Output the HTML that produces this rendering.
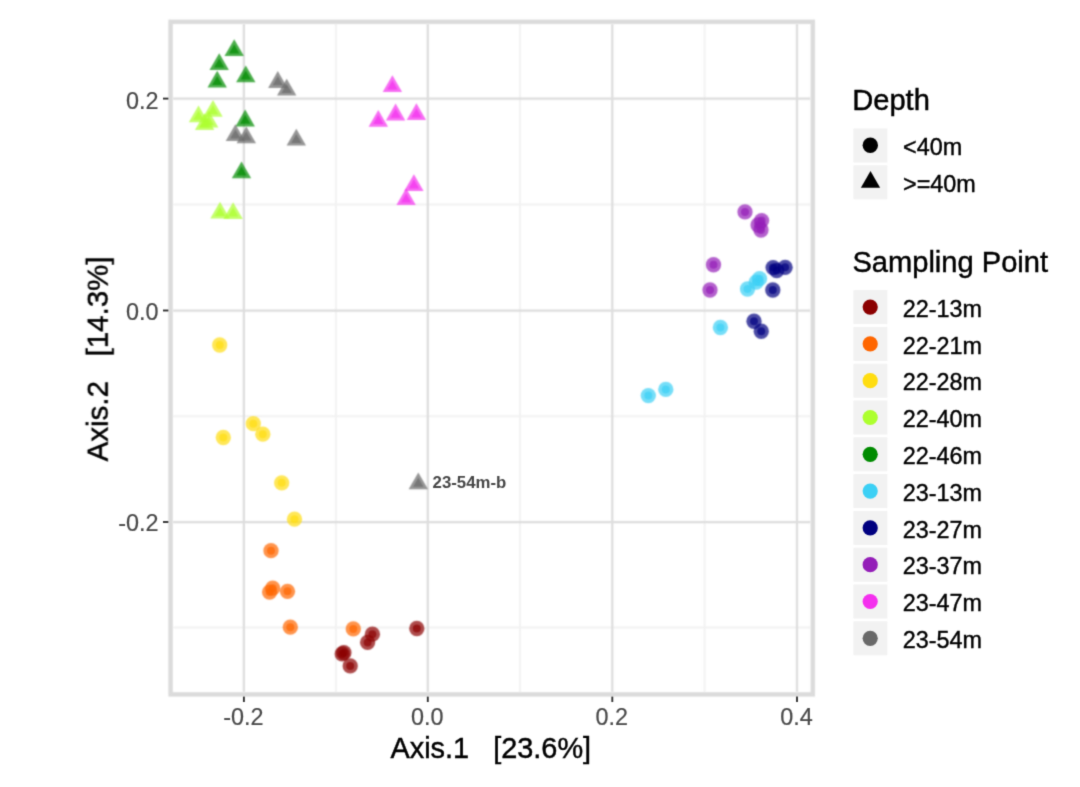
<!DOCTYPE html>
<html><head><meta charset="utf-8"><title>PCoA ordination</title>
<style>
html,body{margin:0;padding:0;background:#fff;}
body{width:1080px;height:787px;overflow:hidden;font-family:"Liberation Sans",Arial,sans-serif;}
svg{display:block;}
.s{stroke:#000;stroke-width:0.4px;}
</style></head><body>
<svg width="1080" height="787" viewBox="0 0 1080 787" font-family="'Liberation Sans', Arial, sans-serif">
<defs><filter id="fa" x="0" y="0" width="1080" height="787" filterUnits="userSpaceOnUse" color-interpolation-filters="sRGB"><feConvolveMatrix order="5" kernelMatrix="0.0002 0.0033 0.0081 0.0033 0.0002 0.0033 0.0479 0.1164 0.0479 0.0033 0.0081 0.1164 0.2831 0.1164 0.0081 0.0033 0.0479 0.1164 0.0479 0.0033 0.0002 0.0033 0.0081 0.0033 0.0002"/></filter><filter id="fb" x="0" y="0" width="1080" height="787" filterUnits="userSpaceOnUse" color-interpolation-filters="sRGB"><feConvolveMatrix order="3" kernelMatrix="0.0192 0.1001 0.0192 0.1001 0.5228 0.1001 0.0192 0.1001 0.0192"/></filter></defs>
<rect width="1080" height="787" fill="#fff"/>
<g filter="url(#fa)">
<g stroke="#f2f2f2" stroke-width="2.0">
<line x1="335.9" x2="335.9" y1="24.0" y2="692.2"/>
<line x1="520.0" x2="520.0" y1="24.0" y2="692.2"/>
<line x1="704.6" x2="704.6" y1="24.0" y2="692.2"/>
<line y1="204.6" y2="204.6" x1="172.8" x2="810.6"/>
<line y1="416.3" y2="416.3" x1="172.8" x2="810.6"/>
<line y1="627.6" y2="627.6" x1="172.8" x2="810.6"/>
</g>
<g stroke="#dddddd" stroke-width="2.25">
<line x1="243.9" x2="243.9" y1="24.0" y2="692.2"/>
<line x1="427.8" x2="427.8" y1="24.0" y2="692.2"/>
<line x1="612.3" x2="612.3" y1="24.0" y2="692.2"/>
<line x1="797.0" x2="797.0" y1="24.0" y2="692.2"/>
<line y1="98.6" y2="98.6" x1="172.8" x2="810.6"/>
<line y1="310.5" y2="310.5" x1="172.8" x2="810.6"/>
<line y1="522.0" y2="522.0" x1="172.8" x2="810.6"/>
</g>
<g fill-opacity="0.7">
<circle cx="372.4" cy="634.2" r="7.65" fill="#8B0000"/>
<circle cx="367.6" cy="642.4" r="7.65" fill="#8B0000"/>
<circle cx="343.9" cy="652.7" r="7.65" fill="#8B0000"/>
<circle cx="342.2" cy="653.9" r="7.65" fill="#8B0000"/>
<circle cx="350.2" cy="665.9" r="7.65" fill="#8B0000"/>
<circle cx="416.8" cy="628.5" r="7.65" fill="#8B0000"/>
<circle cx="271" cy="550.7" r="7.65" fill="#FF6600"/>
<circle cx="272.7" cy="588.2" r="7.65" fill="#FF6600"/>
<circle cx="269.6" cy="592.1" r="7.65" fill="#FF6600"/>
<circle cx="287.5" cy="591.3" r="7.65" fill="#FF6600"/>
<circle cx="290.3" cy="627.2" r="7.65" fill="#FF6600"/>
<circle cx="353.3" cy="628.9" r="7.65" fill="#FF6600"/>
<circle cx="219.7" cy="345" r="7.65" fill="#FFDD11"/>
<circle cx="253.3" cy="423.7" r="7.65" fill="#FFDD11"/>
<circle cx="262.8" cy="434.2" r="7.65" fill="#FFDD11"/>
<circle cx="223.3" cy="437.5" r="7.65" fill="#FFDD11"/>
<circle cx="281.7" cy="482.8" r="7.65" fill="#FFDD11"/>
<circle cx="294.5" cy="519.2" r="7.65" fill="#FFDD11"/>
<polygon points="198.50,105.50 208.20,122.30 188.80,122.30" fill="#ADFF2F"/>
<polygon points="213.00,100.00 222.70,116.80 203.30,116.80" fill="#ADFF2F"/>
<polygon points="204.60,113.30 214.30,130.10 194.90,130.10" fill="#ADFF2F"/>
<polygon points="208.70,110.70 218.40,127.50 199.00,127.50" fill="#ADFF2F"/>
<polygon points="220.00,201.80 229.70,218.60 210.30,218.60" fill="#ADFF2F"/>
<polygon points="233.10,202.30 242.80,219.10 223.40,219.10" fill="#ADFF2F"/>
<polygon points="234.20,39.20 243.90,56.00 224.50,56.00" fill="#008B00"/>
<polygon points="219.20,53.20 228.90,70.00 209.50,70.00" fill="#008B00"/>
<polygon points="245.80,65.40 255.50,82.20 236.10,82.20" fill="#008B00"/>
<polygon points="217.20,70.80 226.90,87.60 207.50,87.60" fill="#008B00"/>
<polygon points="245.20,109.60 254.90,126.40 235.50,126.40" fill="#008B00"/>
<polygon points="241.50,161.40 251.20,178.20 231.80,178.20" fill="#008B00"/>
<circle cx="759.5" cy="278.7" r="7.65" fill="#3CD0F5"/>
<circle cx="756.2" cy="282.2" r="7.65" fill="#3CD0F5"/>
<circle cx="747.5" cy="289" r="7.65" fill="#3CD0F5"/>
<circle cx="720.4" cy="327.5" r="7.65" fill="#3CD0F5"/>
<circle cx="648.3" cy="395.6" r="7.65" fill="#3CD0F5"/>
<circle cx="665.8" cy="389.4" r="7.65" fill="#3CD0F5"/>
<circle cx="785.1" cy="267.3" r="7.65" fill="#000080"/>
<circle cx="773.1" cy="267.6" r="7.65" fill="#000080"/>
<circle cx="776.7" cy="270.6" r="7.65" fill="#000080"/>
<circle cx="772.8" cy="290" r="7.65" fill="#000080"/>
<circle cx="754" cy="321.25" r="7.65" fill="#000080"/>
<circle cx="761.25" cy="331.25" r="7.65" fill="#000080"/>
<circle cx="745" cy="211.9" r="7.65" fill="#941EB8"/>
<circle cx="761.6" cy="220.6" r="7.65" fill="#941EB8"/>
<circle cx="758.1" cy="225" r="7.65" fill="#941EB8"/>
<circle cx="761" cy="230" r="7.65" fill="#941EB8"/>
<circle cx="713.5" cy="264.75" r="7.65" fill="#941EB8"/>
<circle cx="710" cy="290" r="7.65" fill="#941EB8"/>
<polygon points="392.40,75.30 402.10,92.10 382.70,92.10" fill="#F430EE"/>
<polygon points="378.30,109.90 388.00,126.70 368.60,126.70" fill="#F430EE"/>
<polygon points="395.60,103.60 405.30,120.40 385.90,120.40" fill="#F430EE"/>
<polygon points="416.40,103.20 426.10,120.00 406.70,120.00" fill="#F430EE"/>
<polygon points="413.90,174.30 423.60,191.10 404.20,191.10" fill="#F430EE"/>
<polygon points="406.10,188.20 415.80,205.00 396.40,205.00" fill="#F430EE"/>
<polygon points="277.80,71.10 287.50,87.90 268.10,87.90" fill="#696969"/>
<polygon points="286.70,78.80 296.40,95.60 277.00,95.60" fill="#696969"/>
<polygon points="235.40,124.30 245.10,141.10 225.70,141.10" fill="#696969"/>
<polygon points="246.30,126.40 256.00,143.20 236.60,143.20" fill="#696969"/>
<polygon points="296.30,128.70 306.00,145.50 286.60,145.50" fill="#696969"/>
<polygon points="418.30,472.50 428.00,489.30 408.60,489.30" fill="#696969"/>
</g>
<g fill-opacity="0.7">
<circle cx="372.4" cy="634.2" r="4.0" fill="#8B0000"/>
<circle cx="367.6" cy="642.4" r="4.0" fill="#8B0000"/>
<circle cx="343.9" cy="652.7" r="4.0" fill="#8B0000"/>
<circle cx="342.2" cy="653.9" r="4.0" fill="#8B0000"/>
<circle cx="350.2" cy="665.9" r="4.0" fill="#8B0000"/>
<circle cx="416.8" cy="628.5" r="4.0" fill="#8B0000"/>
<circle cx="271" cy="550.7" r="4.0" fill="#FF6600"/>
<circle cx="272.7" cy="588.2" r="4.0" fill="#FF6600"/>
<circle cx="269.6" cy="592.1" r="4.0" fill="#FF6600"/>
<circle cx="287.5" cy="591.3" r="4.0" fill="#FF6600"/>
<circle cx="290.3" cy="627.2" r="4.0" fill="#FF6600"/>
<circle cx="353.3" cy="628.9" r="4.0" fill="#FF6600"/>
<circle cx="219.7" cy="345" r="4.0" fill="#FFDD11"/>
<circle cx="253.3" cy="423.7" r="4.0" fill="#FFDD11"/>
<circle cx="262.8" cy="434.2" r="4.0" fill="#FFDD11"/>
<circle cx="223.3" cy="437.5" r="4.0" fill="#FFDD11"/>
<circle cx="281.7" cy="482.8" r="4.0" fill="#FFDD11"/>
<circle cx="294.5" cy="519.2" r="4.0" fill="#FFDD11"/>
<polygon points="198.50,110.70 203.70,119.70 193.30,119.70" fill="#ADFF2F"/>
<polygon points="213.00,105.20 218.20,114.20 207.80,114.20" fill="#ADFF2F"/>
<polygon points="204.60,118.50 209.80,127.50 199.40,127.50" fill="#ADFF2F"/>
<polygon points="208.70,115.90 213.90,124.90 203.50,124.90" fill="#ADFF2F"/>
<polygon points="220.00,207.00 225.20,216.00 214.80,216.00" fill="#ADFF2F"/>
<polygon points="233.10,207.50 238.30,216.50 227.90,216.50" fill="#ADFF2F"/>
<polygon points="234.20,44.40 239.40,53.40 229.00,53.40" fill="#008B00"/>
<polygon points="219.20,58.40 224.40,67.40 214.00,67.40" fill="#008B00"/>
<polygon points="245.80,70.60 251.00,79.60 240.60,79.60" fill="#008B00"/>
<polygon points="217.20,76.00 222.40,85.00 212.00,85.00" fill="#008B00"/>
<polygon points="245.20,114.80 250.40,123.80 240.00,123.80" fill="#008B00"/>
<polygon points="241.50,166.60 246.70,175.60 236.30,175.60" fill="#008B00"/>
<circle cx="759.5" cy="278.7" r="4.0" fill="#3CD0F5"/>
<circle cx="756.2" cy="282.2" r="4.0" fill="#3CD0F5"/>
<circle cx="747.5" cy="289" r="4.0" fill="#3CD0F5"/>
<circle cx="720.4" cy="327.5" r="4.0" fill="#3CD0F5"/>
<circle cx="648.3" cy="395.6" r="4.0" fill="#3CD0F5"/>
<circle cx="665.8" cy="389.4" r="4.0" fill="#3CD0F5"/>
<circle cx="785.1" cy="267.3" r="4.0" fill="#000080"/>
<circle cx="773.1" cy="267.6" r="4.0" fill="#000080"/>
<circle cx="776.7" cy="270.6" r="4.0" fill="#000080"/>
<circle cx="772.8" cy="290" r="4.0" fill="#000080"/>
<circle cx="754" cy="321.25" r="4.0" fill="#000080"/>
<circle cx="761.25" cy="331.25" r="4.0" fill="#000080"/>
<circle cx="745" cy="211.9" r="4.0" fill="#941EB8"/>
<circle cx="761.6" cy="220.6" r="4.0" fill="#941EB8"/>
<circle cx="758.1" cy="225" r="4.0" fill="#941EB8"/>
<circle cx="761" cy="230" r="4.0" fill="#941EB8"/>
<circle cx="713.5" cy="264.75" r="4.0" fill="#941EB8"/>
<circle cx="710" cy="290" r="4.0" fill="#941EB8"/>
<polygon points="392.40,80.50 397.60,89.50 387.20,89.50" fill="#F430EE"/>
<polygon points="378.30,115.10 383.50,124.10 373.10,124.10" fill="#F430EE"/>
<polygon points="395.60,108.80 400.80,117.80 390.40,117.80" fill="#F430EE"/>
<polygon points="416.40,108.40 421.60,117.40 411.20,117.40" fill="#F430EE"/>
<polygon points="413.90,179.50 419.10,188.50 408.70,188.50" fill="#F430EE"/>
<polygon points="406.10,193.40 411.30,202.40 400.90,202.40" fill="#F430EE"/>
<polygon points="277.80,76.30 283.00,85.30 272.60,85.30" fill="#696969"/>
<polygon points="286.70,84.00 291.90,93.00 281.50,93.00" fill="#696969"/>
<polygon points="235.40,129.50 240.60,138.50 230.20,138.50" fill="#696969"/>
<polygon points="246.30,131.60 251.50,140.60 241.10,140.60" fill="#696969"/>
<polygon points="296.30,133.90 301.50,142.90 291.10,142.90" fill="#696969"/>
<polygon points="418.30,477.70 423.50,486.70 413.10,486.70" fill="#696969"/>
</g>
</g>
<g filter="url(#fb)">
<text x="432.6" y="487.8" font-size="16.8" font-weight="bold" fill="#474747">23-54m-b</text>
</g>
<g filter="url(#fa)">
<rect x="170.6" y="21.8" width="642.2" height="672.6" fill="none" stroke="#dbdbdb" stroke-width="4.4"/>
</g>
<g filter="url(#fb)">
<g stroke="#333" stroke-width="1.9">
<line x1="243.9" x2="243.9" y1="696.6" y2="702.0"/>
<line x1="427.8" x2="427.8" y1="696.6" y2="702.0"/>
<line x1="612.3" x2="612.3" y1="696.6" y2="702.0"/>
<line x1="797.0" x2="797.0" y1="696.6" y2="702.0"/>
<line y1="98.6" y2="98.6" x1="163.0" x2="168.4"/>
<line y1="310.5" y2="310.5" x1="163.0" x2="168.4"/>
<line y1="522.0" y2="522.0" x1="163.0" x2="168.4"/>
</g>
<g font-size="23.4" fill="#4a4a4a" stroke="#4a4a4a" stroke-width="0.2">
<text x="243.3" y="725" text-anchor="middle">-0.2</text>
<text x="427.2" y="725" text-anchor="middle">0.0</text>
<text x="611.6999999999999" y="725" text-anchor="middle">0.2</text>
<text x="796.4" y="725" text-anchor="middle">0.4</text>
<text x="158.6" y="108.9" text-anchor="end">0.2</text>
<text x="158.6" y="320.0" text-anchor="end">0.0</text>
<text x="158.6" y="530.9" text-anchor="end">-0.2</text>
</g>
<g font-size="28.9" fill="#000" stroke="#000" stroke-width="0.45">
<text x="490.8" y="758" text-anchor="middle" xml:space="preserve" style="white-space:pre">Axis.1   [23.6%]</text>
<text transform="translate(107.7,358.9) rotate(-90)" text-anchor="middle" font-size="29.5" xml:space="preserve" style="white-space:pre">Axis.2   [14.3%]</text>
</g>
<text x="852.2" y="110" font-size="29.1" fill="#000" stroke="#000" stroke-width="0.45">Depth</text>
<rect x="853.4" y="128.5" width="34.0" height="34" fill="#f2f2f2"/>
<rect x="853.4" y="165.3" width="34.0" height="34" fill="#f2f2f2"/>
<circle cx="870.3" cy="145.2" r="7.7" fill="#000"/>
<polygon points="870.50,171.10 880.11,187.75 860.89,187.75" fill="#000"/>
<g font-size="23.4" fill="#000">
<text class="s" x="903.0" y="155.2">&lt;40m</text>
<text class="s" x="903.0" y="192">&gt;=40m</text>
</g>
<text x="852.4" y="272.3" font-size="29.1" fill="#000" stroke="#000" stroke-width="0.45">Sampling Point</text>
<g font-size="23.4" fill="#000">
<rect x="853.4" y="290.1" width="34.0" height="34" fill="#f2f2f2"/>
<circle cx="870.2" cy="307.1" r="7.6" fill="#8B0000"/>
<text class="s" x="902.8" y="316.8">22-13m</text>
<rect x="853.4" y="326.90000000000003" width="34.0" height="34" fill="#f2f2f2"/>
<circle cx="870.2" cy="343.9" r="7.6" fill="#FF6600"/>
<text class="s" x="902.8" y="353.6">22-21m</text>
<rect x="853.4" y="363.70000000000005" width="34.0" height="34" fill="#f2f2f2"/>
<circle cx="870.2" cy="380.7" r="7.6" fill="#FFDD11"/>
<text class="s" x="902.8" y="390.4">22-28m</text>
<rect x="853.4" y="400.5" width="34.0" height="34" fill="#f2f2f2"/>
<circle cx="870.2" cy="417.5" r="7.6" fill="#ADFF2F"/>
<text class="s" x="902.8" y="427.2">22-40m</text>
<rect x="853.4" y="437.3" width="34.0" height="34" fill="#f2f2f2"/>
<circle cx="870.2" cy="454.3" r="7.6" fill="#008B00"/>
<text class="s" x="902.8" y="464.0">22-46m</text>
<rect x="853.4" y="474.1" width="34.0" height="34" fill="#f2f2f2"/>
<circle cx="870.2" cy="491.1" r="7.6" fill="#3CD0F5"/>
<text class="s" x="902.8" y="500.8">23-13m</text>
<rect x="853.4" y="510.9" width="34.0" height="34" fill="#f2f2f2"/>
<circle cx="870.2" cy="527.9" r="7.6" fill="#000080"/>
<text class="s" x="902.8" y="537.6">23-27m</text>
<rect x="853.4" y="547.7" width="34.0" height="34" fill="#f2f2f2"/>
<circle cx="870.2" cy="564.7" r="7.6" fill="#941EB8"/>
<text class="s" x="902.8" y="574.4">23-37m</text>
<rect x="853.4" y="584.5" width="34.0" height="34" fill="#f2f2f2"/>
<circle cx="870.2" cy="601.5" r="7.6" fill="#F430EE"/>
<text class="s" x="902.8" y="611.2">23-47m</text>
<rect x="853.4" y="621.3" width="34.0" height="34" fill="#f2f2f2"/>
<circle cx="870.2" cy="638.3" r="7.6" fill="#696969"/>
<text class="s" x="902.8" y="648.0">23-54m</text>
</g>
</g>
</svg>
</body></html>
